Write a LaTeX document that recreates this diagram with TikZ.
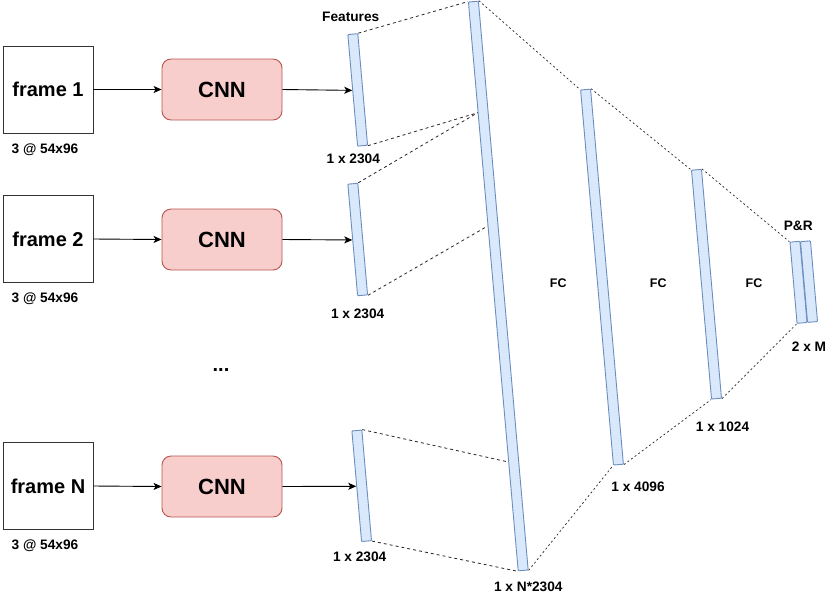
\documentclass[tikz,border=0pt]{standalone}
\usepackage{fontspec}
\setmainfont{Liberation Sans}
\usetikzlibrary{arrows.meta,calc}
\definecolor{barfill}{HTML}{DAE8FC}
\definecolor{barline}{HTML}{6C8EBF}
\definecolor{cnnfill}{HTML}{F8CECC}
\definecolor{cnnline}{HTML}{B85450}
\definecolor{framel}{HTML}{333333}
\tikzset{
  bar/.style={draw=barline, fill=barfill, line width=0.9pt, minimum width=10pt, inner sep=0pt, rotate=5, rounded corners=0.8pt},
  framebox/.style={draw=framel, fill=white, line width=0.9pt, minimum width=90pt, minimum height=87pt, inner sep=0pt, font=\fontsize{20}{24}\selectfont\bfseries},
  cnnbox/.style={draw=cnnline, fill=cnnfill, line width=0.9pt, minimum width=120pt, minimum height=61pt, rounded corners=9pt, inner sep=0pt, font=\fontsize{22}{26}\selectfont\bfseries},
  lbl/.style={inner sep=0pt, font=\fontsize{13.7}{16}\selectfont\bfseries},
  fclbl/.style={inner sep=0pt, font=\fontsize{12.5}{15}\selectfont\bfseries},
  arr/.style={line width=0.9pt, -{Stealth[length=8pt,width=7pt,inset=2pt]}},
  dashA/.style={line width=0.8pt, draw=black!85, dash pattern=on 3pt off 3pt},
  dashB/.style={line width=0.7pt, draw=black!85, dash pattern=on 2pt off 2.5pt}
}
\begin{document}
\begin{tikzpicture}[x=1pt,y=-1pt]
\useasboundingbox (0,0) rectangle (840,603);
% frames
\node[framebox] (fr1) at (48,89.5) {frame 1};
\node[framebox] (fr2) at (48,239) {frame 2};
\node[framebox] (frN) at (48,486) {frame N};
\node[lbl] (d1) at (45,149.5) {3 @ 54x96};
\node[lbl] (d2) at (45,298.5) {3 @ 54x96};
\node[lbl] (dN) at (45,546) {3 @ 54x96};
% CNNs
\node[cnnbox] (c1) at (222,89.5) {CNN};
\node[cnnbox] (c2) at (222,239.5) {CNN};
\node[cnnbox] (cN) at (222,486.5) {CNN};
\node[inner sep=0pt, font=\fontsize{20}{24}\selectfont\bfseries] (dots) at (221,370) {...};
% feature bars
\node[bar, minimum height=112pt] (f1) at (357.7,89.9) {};
\node[bar, minimum height=112pt] (f2) at (357.7,239.5) {};
\node[bar, minimum height=111pt] (fN) at (361.7,485.8) {};
% big bars
\node[bar, minimum height=571pt] (big) at (498.3,286) {};
\node[bar, minimum height=376.5pt] (b4) at (602,277.1) {};
\node[bar, minimum height=229.7pt] (b1) at (706.5,284.2) {};
\node[bar, minimum height=81.5pt] (pa) at (798.5,282.3) {};
\node[bar, minimum height=81pt] (pb) at (809,281.6) {};
% arrows
\draw[arr] (fr1.east) -- (c1.west);
\draw[arr] (fr2.east) -- (c2.west);
\draw[arr] (frN.east) -- (cN.west);
\draw[arr] (c1.east) -- (f1.west);
\draw[arr] (c2.east) -- (f2.west);
\draw[arr] (cN.east) -- (fN.west);
% points on big bar
\coordinate (k1) at ($(big.north west)!0.195!(big.south west)$);
\coordinate (k2) at ($(big.north west)!0.394!(big.south west)$);
\coordinate (k3) at ($(big.north west)!0.808!(big.south west)$);
% dashed connectors
\draw[dashA] (f1.north east) -- (big.north west);
\draw[dashA] (f1.south east) -- (k1);
\draw[dashA] (f2.north east) -- (k1);
\draw[dashA] (f2.south east) -- (k2);
\draw[dashA] (fN.north east) -- (k3);
\draw[dashA] (fN.south east) -- (big.south west);
\draw[dashB] (big.north east) -- (b4.north west);
\draw[dashB] (big.south east) -- (b4.south west);
\draw[dashB] (b4.north east) -- (b1.north west);
\draw[dashB] (b4.south east) -- (b1.south west);
\draw[dashB] (b1.north east) -- (pa.north west);
\draw[dashB] (b1.south east) -- (pa.south west);
% labels
\node[lbl] (lfeat) at (350.7,16.7) {Features};
\node[lbl] (l1) at (353.3,158.7) {1 x 2304};
\node[lbl] (l2) at (357.7,313.3) {1 x 2304};
\node[lbl] (lN) at (359.7,556.7) {1 x 2304};
\node[lbl] (lbig) at (528.3,586.7) {1 x N*2304};
\node[lbl] (l4) at (638,487) {1 x 4096};
\node[lbl] (l10) at (722.5,427) {1 x 1024};
\node[lbl] (lm) at (809,346.3) {2 x M};
\node[lbl] (lpr) at (798.3,226.3) {P\&R};
\node[fclbl] (fc1) at (558.3,282.7) {FC};
\node[fclbl] (fc2) at (658.3,282.7) {FC};
\node[fclbl] (fc3) at (754,282.7) {FC};
\end{tikzpicture}
\end{document}
